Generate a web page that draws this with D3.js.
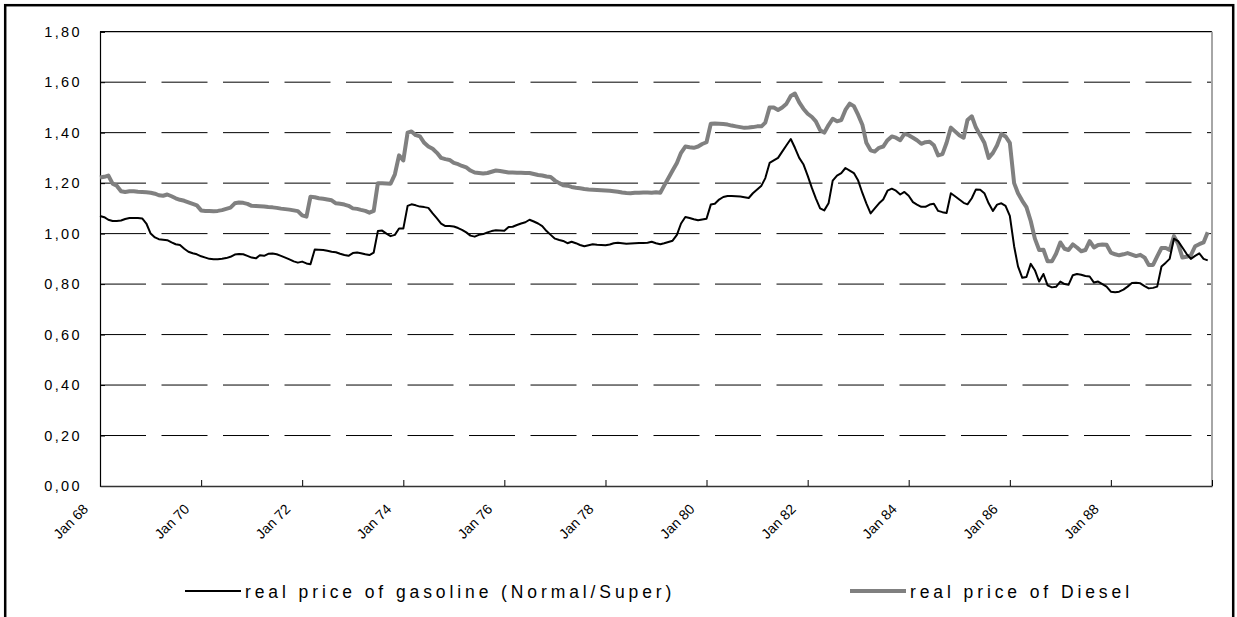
<!DOCTYPE html>
<html>
<head>
<meta charset="utf-8">
<script src="https://cdn.jsdelivr.net/npm/d3@7/dist/d3.min.js"></script>
<style>
  body { margin: 0; background: #fff; }
  svg { display: block; font-family: Arial, "Liberation Sans", sans-serif; }
</style>
</head>
<body>
<div id="chart"></div>
<script>
// monthly values, Jan 1968 .. Dec 1989, one row per year
const startYear = 1968;

const gasoline = [
  1.07, 1.065, 1.055, 1.05, 1.05, 1.052, 1.058, 1.062, 1.062, 1.062, 1.06, 1.04,
  1.00, 0.985, 0.978, 0.976, 0.974, 0.965, 0.958, 0.955, 0.94, 0.928, 0.922, 0.918,
  0.91, 0.905, 0.90, 0.898, 0.898, 0.90, 0.903, 0.908, 0.917, 0.919, 0.918, 0.912,
  0.905, 0.902, 0.914, 0.912, 0.92, 0.921, 0.918, 0.912, 0.905, 0.898, 0.89, 0.885,
  0.889, 0.882, 0.879, 0.937, 0.936, 0.935, 0.932, 0.928, 0.926, 0.92, 0.915, 0.912,
  0.923, 0.925, 0.922, 0.918, 0.915, 0.925, 1.01, 1.012, 1.0, 0.99, 0.995, 1.02,
  1.02, 1.11, 1.116, 1.112, 1.107, 1.105, 1.102, 1.08, 1.06, 1.04, 1.03, 1.03,
  1.028, 1.022, 1.015, 1.005, 0.992, 0.988, 0.995, 0.998, 1.005, 1.01, 1.013, 1.012,
  1.011, 1.026, 1.027, 1.034, 1.04, 1.045, 1.055, 1.048, 1.04, 1.03, 1.01, 0.995,
  0.98, 0.975, 0.971, 0.962, 0.968, 0.962, 0.955, 0.95, 0.954, 0.958, 0.956, 0.955,
  0.954, 0.957, 0.962, 0.964, 0.962, 0.96, 0.961, 0.962, 0.963, 0.963, 0.964, 0.968,
  0.962, 0.958, 0.962, 0.967, 0.972, 0.995, 1.04, 1.066, 1.062, 1.057, 1.053, 1.056,
  1.059, 1.115, 1.118, 1.135, 1.145, 1.149, 1.149, 1.148, 1.147, 1.144, 1.141, 1.16,
  1.175, 1.19, 1.22, 1.28, 1.29, 1.30, 1.325, 1.35, 1.375, 1.34, 1.30, 1.275,
  1.23, 1.18, 1.14, 1.10, 1.092, 1.12, 1.21, 1.23, 1.24, 1.26, 1.25, 1.24,
  1.21, 1.16, 1.12, 1.08, 1.10, 1.12, 1.135, 1.17, 1.178, 1.17, 1.155, 1.165,
  1.15, 1.125, 1.115, 1.106, 1.106, 1.115, 1.118, 1.09, 1.085, 1.082, 1.16, 1.148,
  1.135, 1.122, 1.116, 1.14, 1.175, 1.174, 1.16, 1.12, 1.09, 1.115, 1.12, 1.11,
  1.07, 0.95, 0.87, 0.825, 0.828, 0.88, 0.855, 0.81, 0.84, 0.795, 0.787, 0.789,
  0.81, 0.80, 0.797, 0.835, 0.84, 0.837, 0.832, 0.83, 0.806, 0.81, 0.80, 0.79,
  0.77, 0.768, 0.77, 0.778, 0.79, 0.804, 0.805, 0.803, 0.792, 0.783, 0.785, 0.79,
  0.87, 0.885, 0.90, 0.98, 0.97, 0.945, 0.92, 0.90, 0.912, 0.922, 0.90, 0.894
];

const diesel = [
  1.222, 1.225, 1.23, 1.198, 1.19, 1.168, 1.165, 1.168, 1.168, 1.166, 1.165, 1.164,
  1.162, 1.158, 1.152, 1.15, 1.155, 1.148, 1.14, 1.134, 1.13, 1.124, 1.118, 1.112,
  1.092, 1.09, 1.09, 1.089, 1.09, 1.093, 1.098, 1.103, 1.12, 1.123, 1.122, 1.118,
  1.11, 1.109, 1.108, 1.107, 1.105, 1.104, 1.102, 1.099, 1.097, 1.095, 1.092, 1.089,
  1.072, 1.067, 1.146, 1.144, 1.14, 1.138, 1.135, 1.132, 1.12, 1.118, 1.115, 1.11,
  1.10, 1.098, 1.094, 1.09, 1.083, 1.09, 1.20, 1.20, 1.199, 1.198, 1.235, 1.31,
  1.29, 1.40, 1.405, 1.39, 1.385, 1.36, 1.345, 1.336, 1.32, 1.30, 1.295, 1.292,
  1.28, 1.275, 1.268, 1.262, 1.25, 1.242, 1.24, 1.238, 1.24, 1.245, 1.25, 1.248,
  1.245, 1.242, 1.242, 1.241, 1.241, 1.24, 1.24, 1.236, 1.232, 1.23, 1.226, 1.224,
  1.21, 1.20, 1.192, 1.19, 1.185, 1.182, 1.18, 1.177, 1.175, 1.174, 1.173, 1.172,
  1.171, 1.17, 1.168, 1.166, 1.163, 1.161, 1.16, 1.162, 1.162, 1.163, 1.163, 1.162,
  1.164, 1.162, 1.19, 1.22, 1.25, 1.28, 1.32, 1.345, 1.342, 1.34, 1.345, 1.355,
  1.362, 1.435, 1.436, 1.435, 1.434, 1.432, 1.428, 1.425, 1.422, 1.419, 1.42, 1.422,
  1.425, 1.425, 1.44, 1.50, 1.50, 1.49, 1.50, 1.515, 1.545, 1.555, 1.52, 1.495,
  1.475, 1.462, 1.445, 1.41, 1.40, 1.43, 1.455, 1.445, 1.45, 1.49, 1.515, 1.505,
  1.47, 1.43, 1.36, 1.33, 1.325, 1.34, 1.345, 1.37, 1.385, 1.38, 1.37, 1.395,
  1.39, 1.38, 1.37, 1.356, 1.362, 1.364, 1.35, 1.31, 1.315, 1.36, 1.42, 1.405,
  1.39, 1.38, 1.45, 1.465, 1.42, 1.39, 1.36, 1.30, 1.32, 1.35, 1.395, 1.385,
  1.36, 1.20, 1.16, 1.13, 1.105, 1.05, 0.98, 0.935, 0.936, 0.89, 0.89, 0.92,
  0.965, 0.94, 0.935, 0.957, 0.945, 0.93, 0.935, 0.97, 0.945, 0.955, 0.957, 0.956,
  0.925, 0.918, 0.914, 0.918, 0.923, 0.917, 0.911, 0.916, 0.905, 0.876, 0.876, 0.91,
  0.943, 0.943, 0.935, 0.99, 0.96, 0.905, 0.908, 0.914, 0.95, 0.958, 0.965, 1.005
];

const tickLabels = ["Jan 68", "Jan 70", "Jan 72", "Jan 74", "Jan 76", "Jan 78",
  "Jan 80", "Jan 82", "Jan 84", "Jan 86", "Jan 88"];
const yTicks = [0, 0.2, 0.4, 0.6, 0.8, 1.0, 1.2, 1.4, 1.6, 1.8];
const seriesNames = ["real price of gasoline (Normal/Super)", "real price of Diesel"];

const WIDTH = 1237, HEIGHT = 617;
const PLOT = {LEFT: 100, RIGHT: 1212, TOP: 31.7, BOTTOM: 486};

const svg = d3.select("#chart").append("svg")
  .attr("width", WIDTH)
  .attr("height", HEIGHT);

svg.append("rect").attr("width", WIDTH).attr("height", HEIGHT).attr("fill", "#fff");

// outer frame
svg.append("rect")
  .attr("x", 5.2).attr("y", 5.2)
  .attr("width", 1228).attr("height", 640)
  .attr("fill", "none")
  .attr("stroke", "#000")
  .attr("stroke-width", 2.5);

const monthDate = (i) => new Date(startYear, i, 1);
const x = d3.scaleTime()
  .domain([new Date(1968, 0, 1), new Date(1990, 0, 1)])
  .range([PLOT.LEFT, PLOT.RIGHT]);
const y = d3.scaleLinear().domain([0, 1.8]).range([PLOT.BOTTOM, PLOT.TOP]);

const commaFmt = d3.formatLocale({decimal: ",", thousands: ".", grouping: [3], currency: ["", ""]}).format(".2f");

// dashed gridlines
svg.append("g")
  .selectAll("line")
  .data(yTicks.filter((v) => v > 0 && v < 1.8))
  .join("line")
  .attr("x1", PLOT.LEFT).attr("x2", PLOT.RIGHT)
  .attr("y1", (d) => y(d)).attr("y2", (d) => y(d))
  .attr("stroke", "#000")
  .attr("stroke-width", 1)
  .attr("stroke-dasharray", "46,15.5");

// top border and right border of plot area
svg.append("line")
  .attr("x1", PLOT.LEFT).attr("x2", PLOT.RIGHT)
  .attr("y1", y(1.8)).attr("y2", y(1.8))
  .attr("stroke", "#000").attr("stroke-width", 1.2);
svg.append("line")
  .attr("x1", PLOT.RIGHT).attr("x2", PLOT.RIGHT)
  .attr("y1", y(1.8)).attr("y2", PLOT.BOTTOM)
  .attr("stroke", "#a6a6a6").attr("stroke-width", 2);

// y axis
const yAxis = svg.append("g")
  .attr("transform", "translate(" + PLOT.LEFT + ",0)")
  .call(d3.axisLeft(y).tickValues(yTicks).tickFormat(commaFmt).tickSize(-5).tickPadding(18));
yAxis.select(".domain").attr("stroke", "#000").attr("stroke-width", 1.2);
yAxis.selectAll(".tick line").attr("stroke", "#000");
yAxis.selectAll("text")
  .attr("font-size", 14.5)
  .attr("letter-spacing", "2.4px")
  .attr("fill", "#000")
  .attr("font-family", "Arial, 'Liberation Sans', sans-serif");

// x axis
const tickDates = tickLabels.map((t) => new Date(1900 + (+t.slice(4)), 0, 1));
const xAxis = svg.append("g")
  .attr("transform", "translate(0," + PLOT.BOTTOM + ")")
  .call(d3.axisBottom(x).tickValues(tickDates.concat([new Date(1990, 0, 1)]))
    .tickSizeInner(-6).tickSizeOuter(0).tickFormat(""));
xAxis.select(".domain").attr("stroke", "#333").attr("stroke-width", 1.6);
xAxis.selectAll(".tick line").attr("stroke", "#000");

svg.append("g")
  .selectAll("text")
  .data(tickLabels)
  .join("text")
  .attr("transform", (d, i) => "translate(" + (x(tickDates[i]) - 11) + "," + (PLOT.BOTTOM + 24) + ") rotate(-45)")
  .attr("text-anchor", "end")
  .attr("font-size", 14)
  .attr("fill", "#000")
  .text((d) => d);

// lines
const line = d3.line()
  .x((d, i) => x(monthDate(i)))
  .y((d) => y(d));

svg.append("path")
  .datum(diesel)
  .attr("fill", "none")
  .attr("stroke", "#808080")
  .attr("stroke-width", 4)
  .attr("stroke-linejoin", "round")
  .attr("d", line);

svg.append("path")
  .datum(gasoline)
  .attr("fill", "none")
  .attr("stroke", "#000")
  .attr("stroke-width", 2)
  .attr("stroke-linejoin", "round")
  .attr("d", line);

// legend
const legend = [
  {name: seriesNames[0], color: "#000", width: 2, x: 185},
  {name: seriesNames[1], color: "#808080", width: 4, x: 850}
];
const lg = svg.append("g").selectAll("g").data(legend).join("g");
lg.append("line")
  .attr("x1", (d) => d.x).attr("x2", (d) => d.x + 56)
  .attr("y1", 591).attr("y2", 591)
  .attr("stroke", (d) => d.color)
  .attr("stroke-width", (d) => d.width);
lg.append("text")
  .attr("x", (d) => d.x + 60)
  .attr("y", 597.5)
  .attr("font-size", 17.5)
  .attr("letter-spacing", "3.9px")
  .attr("fill", "#000")
  .text((d) => d.name);
</script>
</body>
</html>
